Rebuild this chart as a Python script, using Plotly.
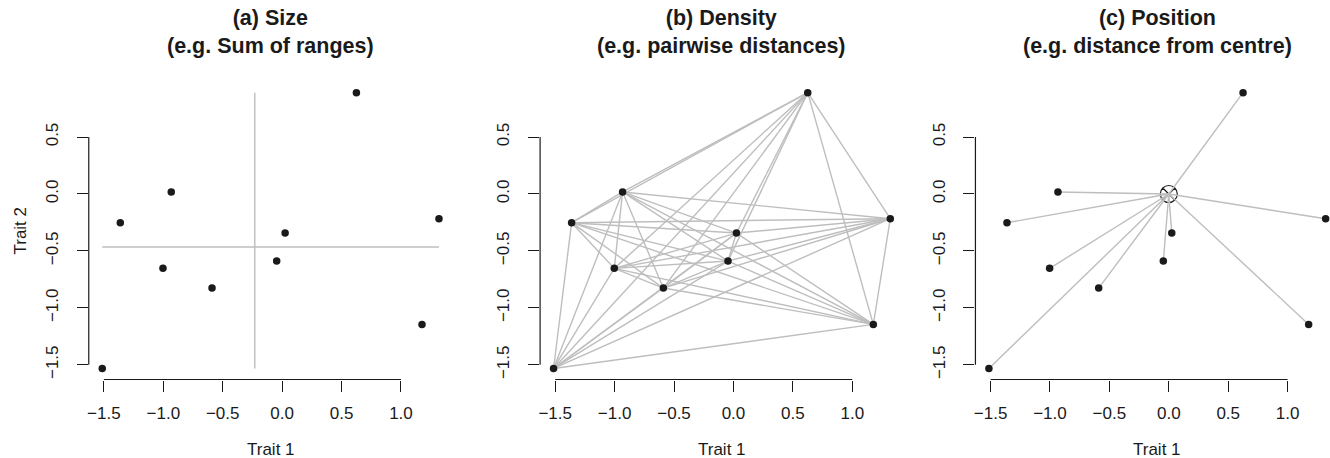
import plotly.graph_objects as go

# ---------------- data ----------------
trait1 = [-1.514, -1.362, -0.933, -1.003, -0.590, -0.046, 0.025, 0.625, 1.320, 1.177]
trait2 = [-1.532, -0.252, 0.018, -0.653, -0.826, -0.589, -0.343, 0.890, -0.217, -1.145]
centre_x = [0.0]
centre_y = [0.0]
panel_titles = [
    "(a) Size<br>(e.g. Sum of ranges)",
    "(b) Density<br>(e.g. pairwise distances)",
    "(c) Position<br>(e.g. distance from centre)",
]
x_ticks = [-1.5, -1.0, -0.5, 0.0, 0.5, 1.0]
y_ticks = [-1.5, -1.0, -0.5, 0.0, 0.5]
x_label = "Trait 1"
y_label = "Trait 2"

# ---------------- layout constants ----------------
W, H = 1330, 458
PX_PER_X = 119.0
PLOT_TOP, PLOT_BOTTOM = 81.6, 379.5
LEFTS = [86.9, 538.9, 974.9]
FONT = "Liberation Sans, Arial, Helvetica, sans-serif"
INK = "#1a1a1a"
GREY = "#bebebe"
LW = 1.4

def padded(vals, f=0.04):
    lo, hi = min(vals), max(vals)
    d = (hi - lo) * f
    return lo - d, hi + d

xlim = padded(trait1)
ylim = padded(trait2)
panel_w = (xlim[1] - xlim[0]) * PX_PER_X

fig = go.Figure()
layout = {}
annotations = []
shapes = []

def ax_name(i, a):
    return a if i == 0 else f"{a}{i+1}"

for i in range(3):
    xa, ya = ax_name(i, "x"), ax_name(i, "y")
    L = LEFTS[i]
    R = L + panel_w
    xr = list(xlim)
    if R > W:
        R = W
        xr[1] = xlim[0] + (W - L) / PX_PER_X
    layout[ax_name(i, "xaxis")] = dict(
        domain=[L / W, R / W], range=xr, anchor=ya,
        showgrid=False, zeroline=False, showline=False,
        ticks="outside", ticklen=11, tickwidth=1.2, tickcolor=INK,
        tickvals=x_ticks, ticktext=[f"{v:.1f}".replace("-", "\u2212") for v in x_ticks],
        tickfont=dict(family=FONT, size=17, color=INK), ticklabelstandoff=7,
    )
    layout[ax_name(i, "yaxis")] = dict(
        domain=[(H - PLOT_BOTTOM) / H, (H - PLOT_TOP) / H], range=list(ylim), anchor=xa,
        showgrid=False, zeroline=False, showline=False,
        ticks="outside", ticklen=11, tickwidth=1.2, tickcolor=INK,
        tickvals=y_ticks, ticktext=[f"{v:.1f}".replace("-", "\u2212") for v in y_ticks],
        tickangle=-90,
        tickfont=dict(family=FONT, size=17, color=INK), ticklabelstandoff=12,
    )
    # R-style axis lines spanning first..last tick
    shapes.append(dict(type="line", xref=xa, yref=f"{ya} domain",
                       x0=min(x_ticks), x1=max(x_ticks), y0=0, y1=0,
                       line=dict(color=INK, width=1.2)))
    shapes.append(dict(type="line", xref=f"{xa} domain", yref=ya,
                       x0=0, x1=0, y0=min(y_ticks), y1=max(y_ticks),
                       line=dict(color=INK, width=1.2)))
    cx = (L + L + panel_w) / 2 / W
    annotations.append(dict(text=panel_titles[i], x=cx, y=(H - 32) / H,
                            xref="paper", yref="paper", xanchor="center", yanchor="middle",
                            showarrow=False,
                            font=dict(family=FONT, size=21.5, color=INK, weight="bold")))
    annotations.append(dict(text=x_label, x=cx, y=(H - 449) / H,
                            xref="paper", yref="paper", xanchor="center", yanchor="middle",
                            showarrow=False, font=dict(family=FONT, size=17, color=INK)))

annotations.append(dict(text=y_label, x=19 / W, y=(H - (PLOT_TOP + PLOT_BOTTOM) / 2) / H,
                        xref="paper", yref="paper", xanchor="center", yanchor="middle",
                        textangle=-90, showarrow=False,
                        font=dict(family=FONT, size=17, color=INK)))

# ---- panel (a): range cross at the means ----
mx = sum(trait1) / len(trait1)
my = sum(trait2) / len(trait2)
fig.add_trace(go.Scatter(x=[mx, mx, None, min(trait1), max(trait1)],
                         y=[min(trait2), max(trait2), None, my, my],
                         mode="lines", line=dict(color=GREY, width=LW),
                         xaxis="x", yaxis="y", hoverinfo="skip", cliponaxis=False))

# ---- panel (b): all pairwise segments ----
bx, by = [], []
n = len(trait1)
for a in range(n):
    for b in range(a + 1, n):
        bx += [trait1[a], trait1[b], None]
        by += [trait2[a], trait2[b], None]
fig.add_trace(go.Scatter(x=bx, y=by, mode="lines", line=dict(color=GREY, width=LW),
                         xaxis="x2", yaxis="y2", hoverinfo="skip", cliponaxis=False))

# ---- panel (c): centre marker and spokes ----
fig.add_trace(go.Scatter(x=centre_x, y=centre_y, mode="markers",
                         marker=dict(symbol="circle-x-open", size=17,
                                     line=dict(color=INK, width=1.2), color=INK),
                         xaxis="x3", yaxis="y3", hoverinfo="skip", cliponaxis=False))
cxs, cys = [], []
for a in range(n):
    cxs += [centre_x[0], trait1[a], None]
    cys += [centre_y[0], trait2[a], None]
fig.add_trace(go.Scatter(x=cxs, y=cys, mode="lines", line=dict(color=GREY, width=LW),
                         xaxis="x3", yaxis="y3", hoverinfo="skip", cliponaxis=False))

# ---- points on all panels ----
for i in range(3):
    fig.add_trace(go.Scatter(x=trait1, y=trait2, mode="markers",
                             marker=dict(size=7.5, color=INK),
                             xaxis=ax_name(i, "x"), yaxis=ax_name(i, "y"),
                             hoverinfo="skip", cliponaxis=False))

fig.update_layout(
    width=W, height=H, margin=dict(l=0, r=0, t=0, b=0),
    paper_bgcolor="white", plot_bgcolor="white", showlegend=False,
    annotations=annotations, shapes=shapes,
    font=dict(family=FONT, color=INK),
    **layout,
)
fig.write_html("out.html", config={"displayModeBar": False},
               post_script="document.body.style.margin='0px';document.body.style.padding='0px';")
